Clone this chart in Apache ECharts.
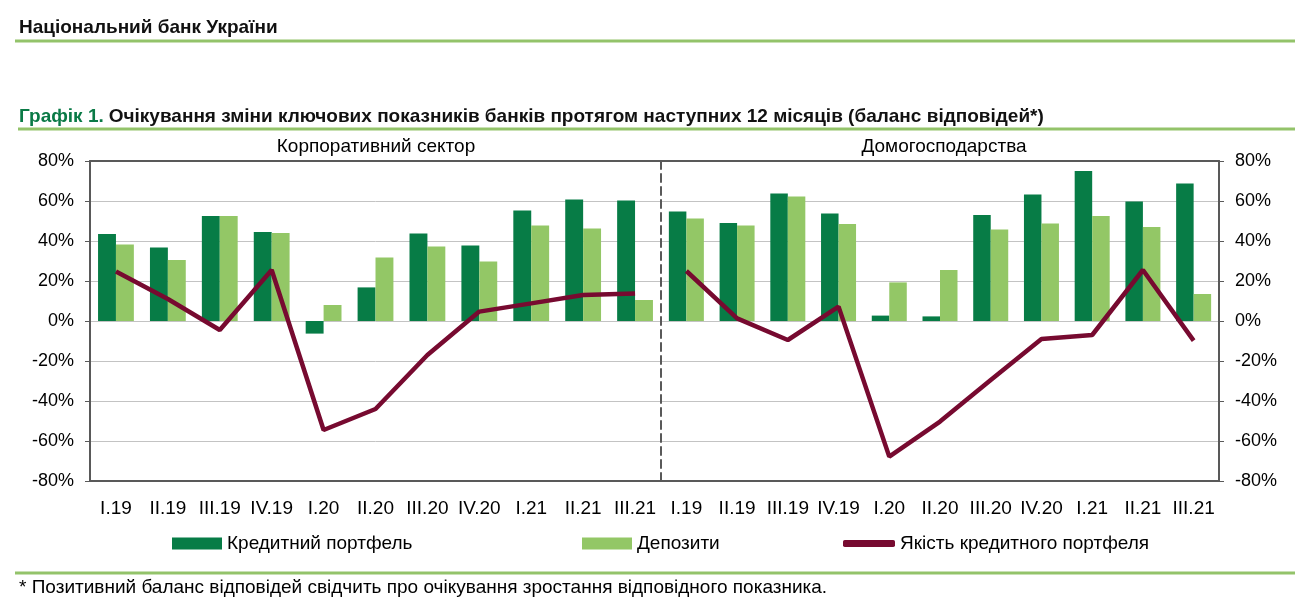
<!DOCTYPE html>
<html>
<head>
<meta charset="utf-8">
<script src="https://cdn.jsdelivr.net/npm/echarts@6/dist/echarts.min.js"></script>
<style>html,body{margin:0;padding:0;background:#fff}#c{width:1300px;height:616px}</style>
</head>
<body>
<div id="c"></div>
<script>
const categories = ['I.19','II.19','III.19','IV.19','I.20','II.20','III.20','IV.20','I.21','II.21','III.21'];
const yTicks = {min: -80, max: 80, step: 20};
const corpLoans    = [43.5, 36.8, 52.5, 44.5, -6.3, 16.8, 43.8, 37.7, 55.2, 60.8, 60.3];
const corpDeposits = [38.3, 30.5, 52.5, 44.0, 8.0, 31.8, 37.2, 29.8, 47.8, 46.3, 10.5];
const corpQuality  = [24.7, 11.0, -4.5, 25.5, -54.5, -44.0, -17.0, 4.7, 8.8, 13.0, 13.8];
const hhLoans      = [54.8, 49.0, 63.7, 53.8, 2.7, 2.3, 53.0, 63.3, 75.0, 59.8, 68.7];
const hhDeposits   = [51.3, 47.8, 62.2, 48.5, 19.3, 25.5, 45.8, 48.8, 52.5, 47.0, 13.5];
const hhQuality    = [25.0, 1.3, -9.5, 7.2, -67.8, -50.3, -29.5, -9.0, -7.0, 25.5, -9.8];
const names = ['Кредитний портфель', 'Депозити', 'Якість кредитного портфеля'];

const FONT = 'Liberation Sans, Arial, sans-serif';
const DARK = '#077c46', LIGHT = '#93c766', MAROON = '#770a30';
const AX = '#595959', GRIDC = '#c3c3c3', RULE = '#93c36a';

const chart = echarts.init(document.getElementById('c'), null, {renderer: 'canvas'});

function xBottom(g){
  return {type:'category', gridIndex:g, data:categories, position:'bottom',
    axisLine:{show:true, onZero:false, lineStyle:{color:AX, width:2}},
    axisTick:{show:false},
    axisLabel:{color:'#000', fontSize:19, fontFamily:FONT, margin:18, interval:0}};
}
function xTop(g){
  return {type:'category', gridIndex:g, data:categories, position:'top',
    axisLine:{show:true, onZero:false, lineStyle:{color:AX, width:2}},
    axisTick:{show:false}, axisLabel:{show:false}};
}
const yBase = {type:'value', min:yTicks.min, max:yTicks.max, interval:yTicks.step};
const legendText = {fontSize:19, color:'#000', fontFamily:FONT};

const option = {
  animation:false,
  textStyle:{fontFamily:FONT},
  title:[
    {text:'Національний банк України', left:19, top:18, padding:0,
      textStyle:{fontSize:19, fontWeight:'bold', color:'#111', fontFamily:FONT}},
    {text:'{g|Графік 1.} {b|Очікування зміни ключових показників банків протягом наступних 12 місяців (баланс відповідей*)}',
      left:19, top:107, padding:0,
      textStyle:{rich:{
        g:{fontSize:19, fontWeight:'bold', color:'#0a7a46', fontFamily:FONT},
        b:{fontSize:19, fontWeight:'bold', color:'#111', fontFamily:FONT}}}},
    {text:'Корпоративний сектор', left:376, top:137, padding:0, textAlign:'center',
      textStyle:{fontSize:19, fontWeight:'normal', color:'#000', fontFamily:FONT}},
    {text:'Домогосподарства', left:944, top:137, padding:0, textAlign:'center',
      textStyle:{fontSize:19, fontWeight:'normal', color:'#000', fontFamily:FONT}},
    {text:'* Позитивний баланс відповідей свідчить про очікування зростання відповідного показника.',
      left:19, top:578, padding:0,
      textStyle:{fontSize:19, fontWeight:'normal', color:'#000', fontFamily:FONT}}
  ],
  graphic:[
    {type:'line', shape:{x1:15, y1:41, x2:1295, y2:41}, style:{stroke:RULE, lineWidth:3}},
    {type:'line', shape:{x1:18, y1:129, x2:1295, y2:129}, style:{stroke:RULE, lineWidth:3}},
    {type:'line', shape:{x1:15, y1:573, x2:1295, y2:573}, style:{stroke:RULE, lineWidth:3}}
  ],
  legend:[
    {data:[{name:names[0], icon:'rect'}], left:172, top:534, padding:0, itemWidth:50, itemHeight:12, itemGap:0,
      textStyle:legendText},
    {data:[{name:names[1], icon:'rect'}], left:582, top:534, padding:0, itemWidth:50, itemHeight:12, itemGap:0,
      textStyle:legendText},
    {data:[{name:names[2], icon:'roundRect'}], left:843, top:534, padding:0, itemWidth:52, itemHeight:7, itemGap:0,
      textStyle:legendText}
  ],
  grid:[
    {left:90, top:161, width:571, height:320},
    {left:661, top:161, width:558, height:320}
  ],
  xAxis:[xBottom(0), xTop(0), xBottom(1), xTop(1)],
  yAxis:[
    Object.assign({}, yBase, {gridIndex:0, position:'left',
      axisLine:{show:true, lineStyle:{color:AX, width:2}},
      axisTick:{show:true, length:5, lineStyle:{color:AX, width:1}},
      axisLabel:{formatter:'{value}%', color:'#000', fontSize:18, fontFamily:FONT, margin:16},
      splitLine:{show:true, lineStyle:{color:GRIDC, width:1}}}),
    Object.assign({}, yBase, {gridIndex:1, position:'left',
      axisLine:{show:true, lineStyle:{color:AX, width:2, type:[8,5]}},
      axisTick:{show:false}, axisLabel:{show:false},
      splitLine:{show:true, lineStyle:{color:GRIDC, width:1}}}),
    Object.assign({}, yBase, {gridIndex:1, position:'right',
      axisLine:{show:true, lineStyle:{color:AX, width:2}},
      axisTick:{show:true, length:5, lineStyle:{color:AX, width:1}},
      axisLabel:{formatter:'{value}%', color:'#000', fontSize:18, fontFamily:FONT, margin:16},
      splitLine:{show:false}})
  ],
  series:[
    {name:names[0], type:'bar', xAxisIndex:0, yAxisIndex:0, data:corpLoans,
      itemStyle:{color:DARK}, barGap:'0%', barCategoryGap:'31%'},
    {name:names[1], type:'bar', xAxisIndex:0, yAxisIndex:0, data:corpDeposits,
      itemStyle:{color:LIGHT}, barGap:'0%', barCategoryGap:'31%'},
    {name:names[2], type:'line', xAxisIndex:0, yAxisIndex:0, data:corpQuality,
      showSymbol:false, symbol:'none', lineStyle:{color:MAROON, width:4.5}, itemStyle:{color:MAROON}, z:5},
    {name:names[0], type:'bar', xAxisIndex:2, yAxisIndex:1, data:hhLoans,
      itemStyle:{color:DARK}, barGap:'0%', barCategoryGap:'31%'},
    {name:names[1], type:'bar', xAxisIndex:2, yAxisIndex:1, data:hhDeposits,
      itemStyle:{color:LIGHT}, barGap:'0%', barCategoryGap:'31%'},
    {name:names[2], type:'line', xAxisIndex:2, yAxisIndex:1, data:hhQuality,
      showSymbol:false, symbol:'none', lineStyle:{color:MAROON, width:4.5}, itemStyle:{color:MAROON}, z:5}
  ]
};
chart.setOption(option);
</script>
</body>
</html>
